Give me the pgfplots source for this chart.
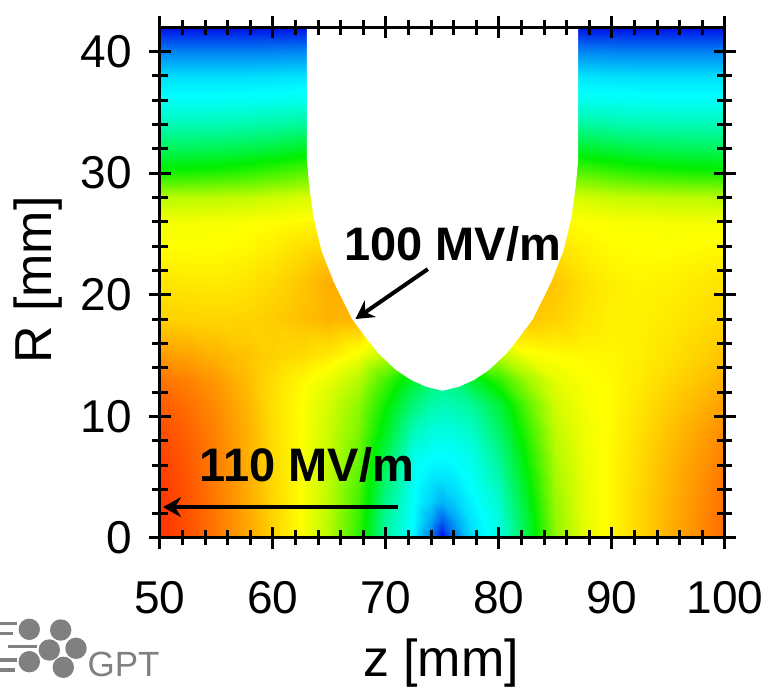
\documentclass[border=0pt]{standalone}
\usepackage{fontspec}
\setmainfont{Liberation Sans}
\usepackage{pgfplots}
\pgfplotsset{compat=1.18}
\usetikzlibrary{arrows.meta}
\begin{document}
\begin{tikzpicture}
\useasboundingbox (0,0) rectangle (384pt,343.5pt);
\begin{axis}[
  at={(80pt,74.5pt)}, anchor=south west,
  width=282.5pt, height=255.5pt, scale only axis,
  xmin=50, xmax=100, ymin=0, ymax=42,
  xtick={50,60,...,100}, ytick={0,10,...,40},
  minor x tick num=4, minor y tick num=4,
  tick align=center, xtick pos=both, ytick pos=both,
  xticklabel pos=lower, yticklabel pos=left,
  major tick length=11pt, minor tick length=7.5pt,
  tick style={line width=1.5pt, black},
  axis line style={line width=1.5pt},
  axis on top,
  colormap={gptjet}{rgb255=(0,0,230) rgb255=(0,255,255) rgb255=(0,240,0) rgb255=(255,255,0) rgb255=(255,0,0)},
  point meta min=0, point meta max=4,
  /pgf/number format/assume math mode=true,
  ticklabel style={font=\fontsize{23}{23}\selectfont},
  xticklabel style={yshift=-12.5pt},
  yticklabel style={xshift=-5pt},
]
\addplot[surf, shader=interp, mesh/cols=23, point meta=explicit] coordinates {
(50,0) [3.80] (52.5,0) [3.68] (55,0) [3.53] (57.5,0) [3.36] (60,0) [3.17] (62.5,0) [3.00] (65,0) [2.72] (67.5,0) [2.20] (70,0) [1.35] (72.5,0) [0.95] (74,0) [0.50] (75,0) [0.03] (76,0) [0.45] (77.5,0) [0.85] (80,0) [1.10] (82.5,0) [1.75] (85,0) [2.55] (87.5,0) [2.90] (90,0) [3.03] (92.5,0) [3.16] (95,0) [3.30] (97.5,0) [3.44] (100,0) [3.58]
(50,1.5) [3.80] (52.5,1.5) [3.68] (55,1.5) [3.53] (57.5,1.5) [3.36] (60,1.5) [3.17] (62.5,1.5) [3.00] (65,1.5) [2.72] (67.5,1.5) [2.22] (70,1.5) [1.38] (72.5,1.5) [0.98] (74,1.5) [0.66] (75,1.5) [0.38] (76,1.5) [0.63] (77.5,1.5) [0.90] (80,1.5) [1.13] (82.5,1.5) [1.78] (85,1.5) [2.57] (87.5,1.5) [2.90] (90,1.5) [3.03] (92.5,1.5) [3.16] (95,1.5) [3.30] (97.5,1.5) [3.44] (100,1.5) [3.58]
(50,3) [3.79] (52.5,3) [3.67] (55,3) [3.52] (57.5,3) [3.35] (60,3) [3.16] (62.5,3) [3.00] (65,3) [2.73] (67.5,3) [2.27] (70,3) [1.45] (72.5,3) [1.00] (74,3) [0.82] (75,3) [0.70] (76,3) [0.80] (77.5,3) [0.96] (80,3) [1.20] (82.5,3) [1.86] (85,3) [2.60] (87.5,3) [2.91] (90,3) [3.03] (92.5,3) [3.16] (95,3) [3.29] (97.5,3) [3.43] (100,3) [3.56]
(50,5) [3.77] (52.5,5) [3.66] (55,5) [3.51] (57.5,5) [3.34] (60,5) [3.15] (62.5,5) [3.00] (65,5) [2.75] (67.5,5) [2.35] (70,5) [1.57] (72.5,5) [1.03] (74,5) [0.92] (75,5) [0.90] (76,5) [0.93] (77.5,5) [1.03] (80,5) [1.32] (82.5,5) [1.96] (85,5) [2.65] (87.5,5) [2.92] (90,5) [3.03] (92.5,5) [3.15] (95,5) [3.28] (97.5,5) [3.41] (100,5) [3.54]
(50,7) [3.74] (52.5,7) [3.64] (55,7) [3.50] (57.5,7) [3.33] (60,7) [3.14] (62.5,7) [3.00] (65,7) [2.77] (67.5,7) [2.42] (70,7) [1.70] (72.5,7) [1.10] (74,7) [1.02] (75,7) [1.01] (76,7) [1.03] (77.5,7) [1.10] (80,7) [1.45] (82.5,7) [2.07] (85,7) [2.70] (87.5,7) [2.93] (90,7) [3.03] (92.5,7) [3.14] (95,7) [3.26] (97.5,7) [3.38] (100,7) [3.50]
(50,9) [3.70] (52.5,9) [3.61] (55,9) [3.48] (57.5,9) [3.32] (60,9) [3.13] (62.5,9) [3.00] (65,9) [2.80] (67.5,9) [2.50] (70,9) [1.87] (72.5,9) [1.27] (74,9) [1.14] (75,9) [1.12] (76,9) [1.14] (77.5,9) [1.22] (80,9) [1.60] (82.5,9) [2.20] (85,9) [2.76] (87.5,9) [2.94] (90,9) [3.02] (92.5,9) [3.12] (95,9) [3.23] (97.5,9) [3.34] (100,9) [3.45]
(50,11) [3.64] (52.5,11) [3.56] (55,11) [3.45] (57.5,11) [3.30] (60,11) [3.12] (62.5,11) [3.00] (65,11) [2.83] (67.5,11) [2.57] (70,11) [2.03] (72.5,11) [1.52] (74,11) [1.34] (75,11) [1.30] (76,11) [1.32] (77.5,11) [1.40] (80,11) [1.78] (82.5,11) [2.36] (85,11) [2.82] (87.5,11) [2.96] (90,11) [3.02] (92.5,11) [3.10] (95,11) [3.19] (97.5,11) [3.28] (100,11) [3.38]
(50,13) [3.55] (52.5,13) [3.49] (55,13) [3.40] (57.5,13) [3.27] (60,13) [3.13] (62.5,13) [3.03] (65,13) [2.92] (67.5,13) [2.72] (70,13) [2.25] (72.5,13) [1.80] (74,13) [1.55] (75,13) [1.48] (76,13) [1.55] (77.5,13) [1.80] (80,13) [2.18] (82.5,13) [2.62] (85,13) [2.90] (87.5,13) [2.98] (90,13) [3.02] (92.5,13) [3.08] (95,13) [3.15] (97.5,13) [3.22] (100,13) [3.30]
(50,15) [3.40] (52.5,15) [3.36] (55,15) [3.30] (57.5,15) [3.24] (60,15) [3.18] (62.5,15) [3.14] (65,15) [3.08] (67.5,15) [2.96] (70,15) [2.72] (72.5,15) [2.55] (74,15) [2.50] (75,15) [2.50] (76,15) [2.50] (77.5,15) [2.55] (80,15) [2.72] (82.5,15) [2.95] (85,15) [3.00] (87.5,15) [3.02] (90,15) [3.03] (92.5,15) [3.06] (95,15) [3.11] (97.5,15) [3.17] (100,15) [3.23]
(50,18) [3.18] (52.5,18) [3.17] (55,18) [3.16] (57.5,18) [3.17] (60,18) [3.20] (62.5,18) [3.25] (65,18) [3.30] (67.5,18) [3.28] (70,18) [3.25] (72.5,18) [3.25] (74,18) [3.25] (75,18) [3.25] (76,18) [3.25] (77.5,18) [3.25] (80,18) [3.25] (82.5,18) [3.22] (85,18) [3.18] (87.5,18) [3.10] (90,18) [3.05] (92.5,18) [3.05] (95,18) [3.08] (97.5,18) [3.12] (100,18) [3.16]
(50,21) [3.10] (52.5,21) [3.09] (55,21) [3.08] (57.5,21) [3.10] (60,21) [3.15] (62.5,21) [3.22] (65,21) [3.32] (67.5,21) [3.33] (70,21) [3.33] (72.5,21) [3.33] (74,21) [3.33] (75,21) [3.33] (76,21) [3.33] (77.5,21) [3.33] (80,21) [3.33] (82.5,21) [3.28] (85,21) [3.22] (87.5,21) [3.12] (90,21) [3.06] (92.5,21) [3.04] (95,21) [3.05] (97.5,21) [3.08] (100,21) [3.11]
(50,24) [3.00] (52.5,24) [3.00] (55,24) [3.00] (57.5,24) [3.02] (60,24) [3.06] (62.5,24) [3.12] (65,24) [3.15] (67.5,24) [3.15] (70,24) [3.15] (72.5,24) [3.15] (74,24) [3.15] (75,24) [3.15] (76,24) [3.15] (77.5,24) [3.15] (80,24) [3.15] (82.5,24) [3.15] (85,24) [3.12] (87.5,24) [3.05] (90,24) [3.01] (92.5,24) [3.00] (95,24) [3.00] (97.5,24) [3.01] (100,24) [3.02]
(50,26) [2.96] (52.5,26) [2.96] (55,26) [2.97] (57.5,26) [2.98] (60,26) [3.00] (62.5,26) [3.02] (65,26) [3.03] (67.5,26) [3.03] (70,26) [3.03] (72.5,26) [3.03] (74,26) [3.03] (75,26) [3.03] (76,26) [3.03] (77.5,26) [3.03] (80,26) [3.03] (82.5,26) [3.03] (85,26) [3.03] (87.5,26) [3.00] (90,26) [2.98] (92.5,26) [2.97] (95,26) [2.96] (97.5,26) [2.96] (100,26) [2.96]
(50,28) [2.72] (52.5,28) [2.73] (55,28) [2.74] (57.5,28) [2.76] (60,28) [2.80] (62.5,28) [2.85] (65,28) [2.87] (67.5,28) [2.87] (70,28) [2.87] (72.5,28) [2.87] (74,28) [2.87] (75,28) [2.87] (76,28) [2.87] (77.5,28) [2.87] (80,28) [2.87] (82.5,28) [2.87] (85,28) [2.87] (87.5,28) [2.82] (90,28) [2.78] (92.5,28) [2.76] (95,28) [2.74] (97.5,28) [2.73] (100,28) [2.72]
(50,30) [2.08] (52.5,30) [2.10] (55,30) [2.13] (57.5,30) [2.18] (60,30) [2.26] (62.5,30) [2.35] (65,30) [2.38] (67.5,30) [2.38] (70,30) [2.38] (72.5,30) [2.38] (74,30) [2.38] (75,30) [2.38] (76,30) [2.38] (77.5,30) [2.38] (80,30) [2.38] (82.5,30) [2.38] (85,30) [2.38] (87.5,30) [2.33] (90,30) [2.24] (92.5,30) [2.17] (95,30) [2.13] (97.5,30) [2.10] (100,30) [2.08]
(50,32) [1.65] (52.5,32) [1.66] (55,32) [1.68] (57.5,32) [1.72] (60,32) [1.78] (62.5,32) [1.86] (65,32) [1.89] (67.5,32) [1.89] (70,32) [1.89] (72.5,32) [1.89] (74,32) [1.89] (75,32) [1.89] (76,32) [1.89] (77.5,32) [1.89] (80,32) [1.89] (82.5,32) [1.89] (85,32) [1.89] (87.5,32) [1.84] (90,32) [1.77] (92.5,32) [1.71] (95,32) [1.68] (97.5,32) [1.66] (100,32) [1.65]
(50,34) [1.28] (52.5,34) [1.28] (55,34) [1.29] (57.5,34) [1.31] (60,34) [1.34] (62.5,34) [1.39] (65,34) [1.41] (67.5,34) [1.41] (70,34) [1.41] (72.5,34) [1.41] (74,34) [1.41] (75,34) [1.41] (76,34) [1.41] (77.5,34) [1.41] (80,34) [1.41] (82.5,34) [1.41] (85,34) [1.41] (87.5,34) [1.38] (90,34) [1.33] (92.5,34) [1.30] (95,34) [1.29] (97.5,34) [1.28] (100,34) [1.28]
(50,36) [1.03] (52.5,36) [1.03] (55,36) [1.03] (57.5,36) [1.04] (60,36) [1.05] (62.5,36) [1.07] (65,36) [1.08] (67.5,36) [1.08] (70,36) [1.08] (72.5,36) [1.08] (74,36) [1.08] (75,36) [1.08] (76,36) [1.08] (77.5,36) [1.08] (80,36) [1.08] (82.5,36) [1.08] (85,36) [1.08] (87.5,36) [1.06] (90,36) [1.05] (92.5,36) [1.04] (95,36) [1.03] (97.5,36) [1.03] (100,36) [1.03]
(50,38) [0.87] (52.5,38) [0.87] (55,38) [0.87] (57.5,38) [0.87] (60,38) [0.88] (62.5,38) [0.89] (65,38) [0.90] (67.5,38) [0.90] (70,38) [0.90] (72.5,38) [0.90] (74,38) [0.90] (75,38) [0.90] (76,38) [0.90] (77.5,38) [0.90] (80,38) [0.90] (82.5,38) [0.90] (85,38) [0.90] (87.5,38) [0.89] (90,38) [0.88] (92.5,38) [0.87] (95,38) [0.87] (97.5,38) [0.87] (100,38) [0.87]
(50,40) [0.50] (52.5,40) [0.50] (55,40) [0.50] (57.5,40) [0.50] (60,40) [0.51] (62.5,40) [0.52] (65,40) [0.52] (67.5,40) [0.52] (70,40) [0.52] (72.5,40) [0.52] (74,40) [0.52] (75,40) [0.52] (76,40) [0.52] (77.5,40) [0.52] (80,40) [0.52] (82.5,40) [0.52] (85,40) [0.52] (87.5,40) [0.52] (90,40) [0.51] (92.5,40) [0.50] (95,40) [0.50] (97.5,40) [0.50] (100,40) [0.50]
(50,42) [0.05] (52.5,42) [0.05] (55,42) [0.05] (57.5,42) [0.05] (60,42) [0.05] (62.5,42) [0.05] (65,42) [0.05] (67.5,42) [0.05] (70,42) [0.05] (72.5,42) [0.05] (74,42) [0.05] (75,42) [0.05] (76,42) [0.05] (77.5,42) [0.05] (80,42) [0.05] (82.5,42) [0.05] (85,42) [0.05] (87.5,42) [0.05] (90,42) [0.05] (92.5,42) [0.05] (95,42) [0.05] (97.5,42) [0.05] (100,42) [0.05]
};
\addplot[fill=white, draw=none] coordinates {
(63,43) (63,31) (63.2,29) (63.6,26.3) (64.3,23.6) (65.4,21) (67.0,18) (68.2,16.5) (69.3,15.2) (70.9,13.8) (72.2,13) (73.5,12.45) (75,12.1) (76.5,12.45) (77.8,13) (79.1,13.8) (80.7,15.2) (81.8,16.5) (83,18) (84.6,21) (85.7,23.6) (86.4,26.3) (86.8,29) (87,31) (87,43)
};
\node[font=\bfseries\fontsize{23.5}{23.5}\selectfont] at (axis cs:75.9,24.2) {100 MV/m};
\draw[line width=2pt, -{Stealth[length=9pt,width=10pt,inset=3pt]}] (axis cs:73.7,22.1) -- (axis cs:67.3,18.0);
\node[font=\bfseries\fontsize{23.5}{23.5}\selectfont] at (axis cs:63.0,6.0) {110 MV/m};
\draw[line width=2pt, -{Stealth[length=9pt,width=10pt,inset=3pt]}] (axis cs:71.06,2.54) -- (axis cs:50.27,2.54);
\end{axis}
\node[font=\fontsize{26}{26}\selectfont] at (220.5pt,12pt) {z [mm]};
\node[font=\fontsize{26}{26}\selectfont, rotate=90] at (19pt,203.5pt) {R [mm]};
\begin{scope}[fill={rgb,255:red,128;green,128;blue,128}, draw={rgb,255:red,128;green,128;blue,128}]
\fill (14.65pt,28.85pt) circle (5.35pt);
\fill (30.35pt,28.5pt) circle (5.35pt);
\fill (38pt,19.35pt) circle (5.35pt);
\fill (24.65pt,18.5pt) circle (5.35pt);
\fill (14.65pt,12.65pt) circle (5.35pt);
\fill (31.65pt,9.85pt) circle (5.35pt);
\draw[line width=1.65pt] (0pt,31.85pt) -- (8.5pt,31.85pt);
\draw[line width=1.65pt] (0pt,26.85pt) -- (6.5pt,26.85pt);
\draw[line width=1.65pt] (4pt,20.15pt) -- (18.5pt,20.15pt);
\draw[line width=1.65pt] (0pt,13.5pt) -- (8.5pt,13.5pt);
\draw[line width=1.65pt] (0pt,8.5pt) -- (7.5pt,8.5pt);
\end{scope}
\node[text={rgb,255:red,128;green,128;blue,128}, font=\fontsize{17.5}{17.5}\selectfont] at (61.75pt,11.25pt) {GPT};
\end{tikzpicture}
\end{document}
